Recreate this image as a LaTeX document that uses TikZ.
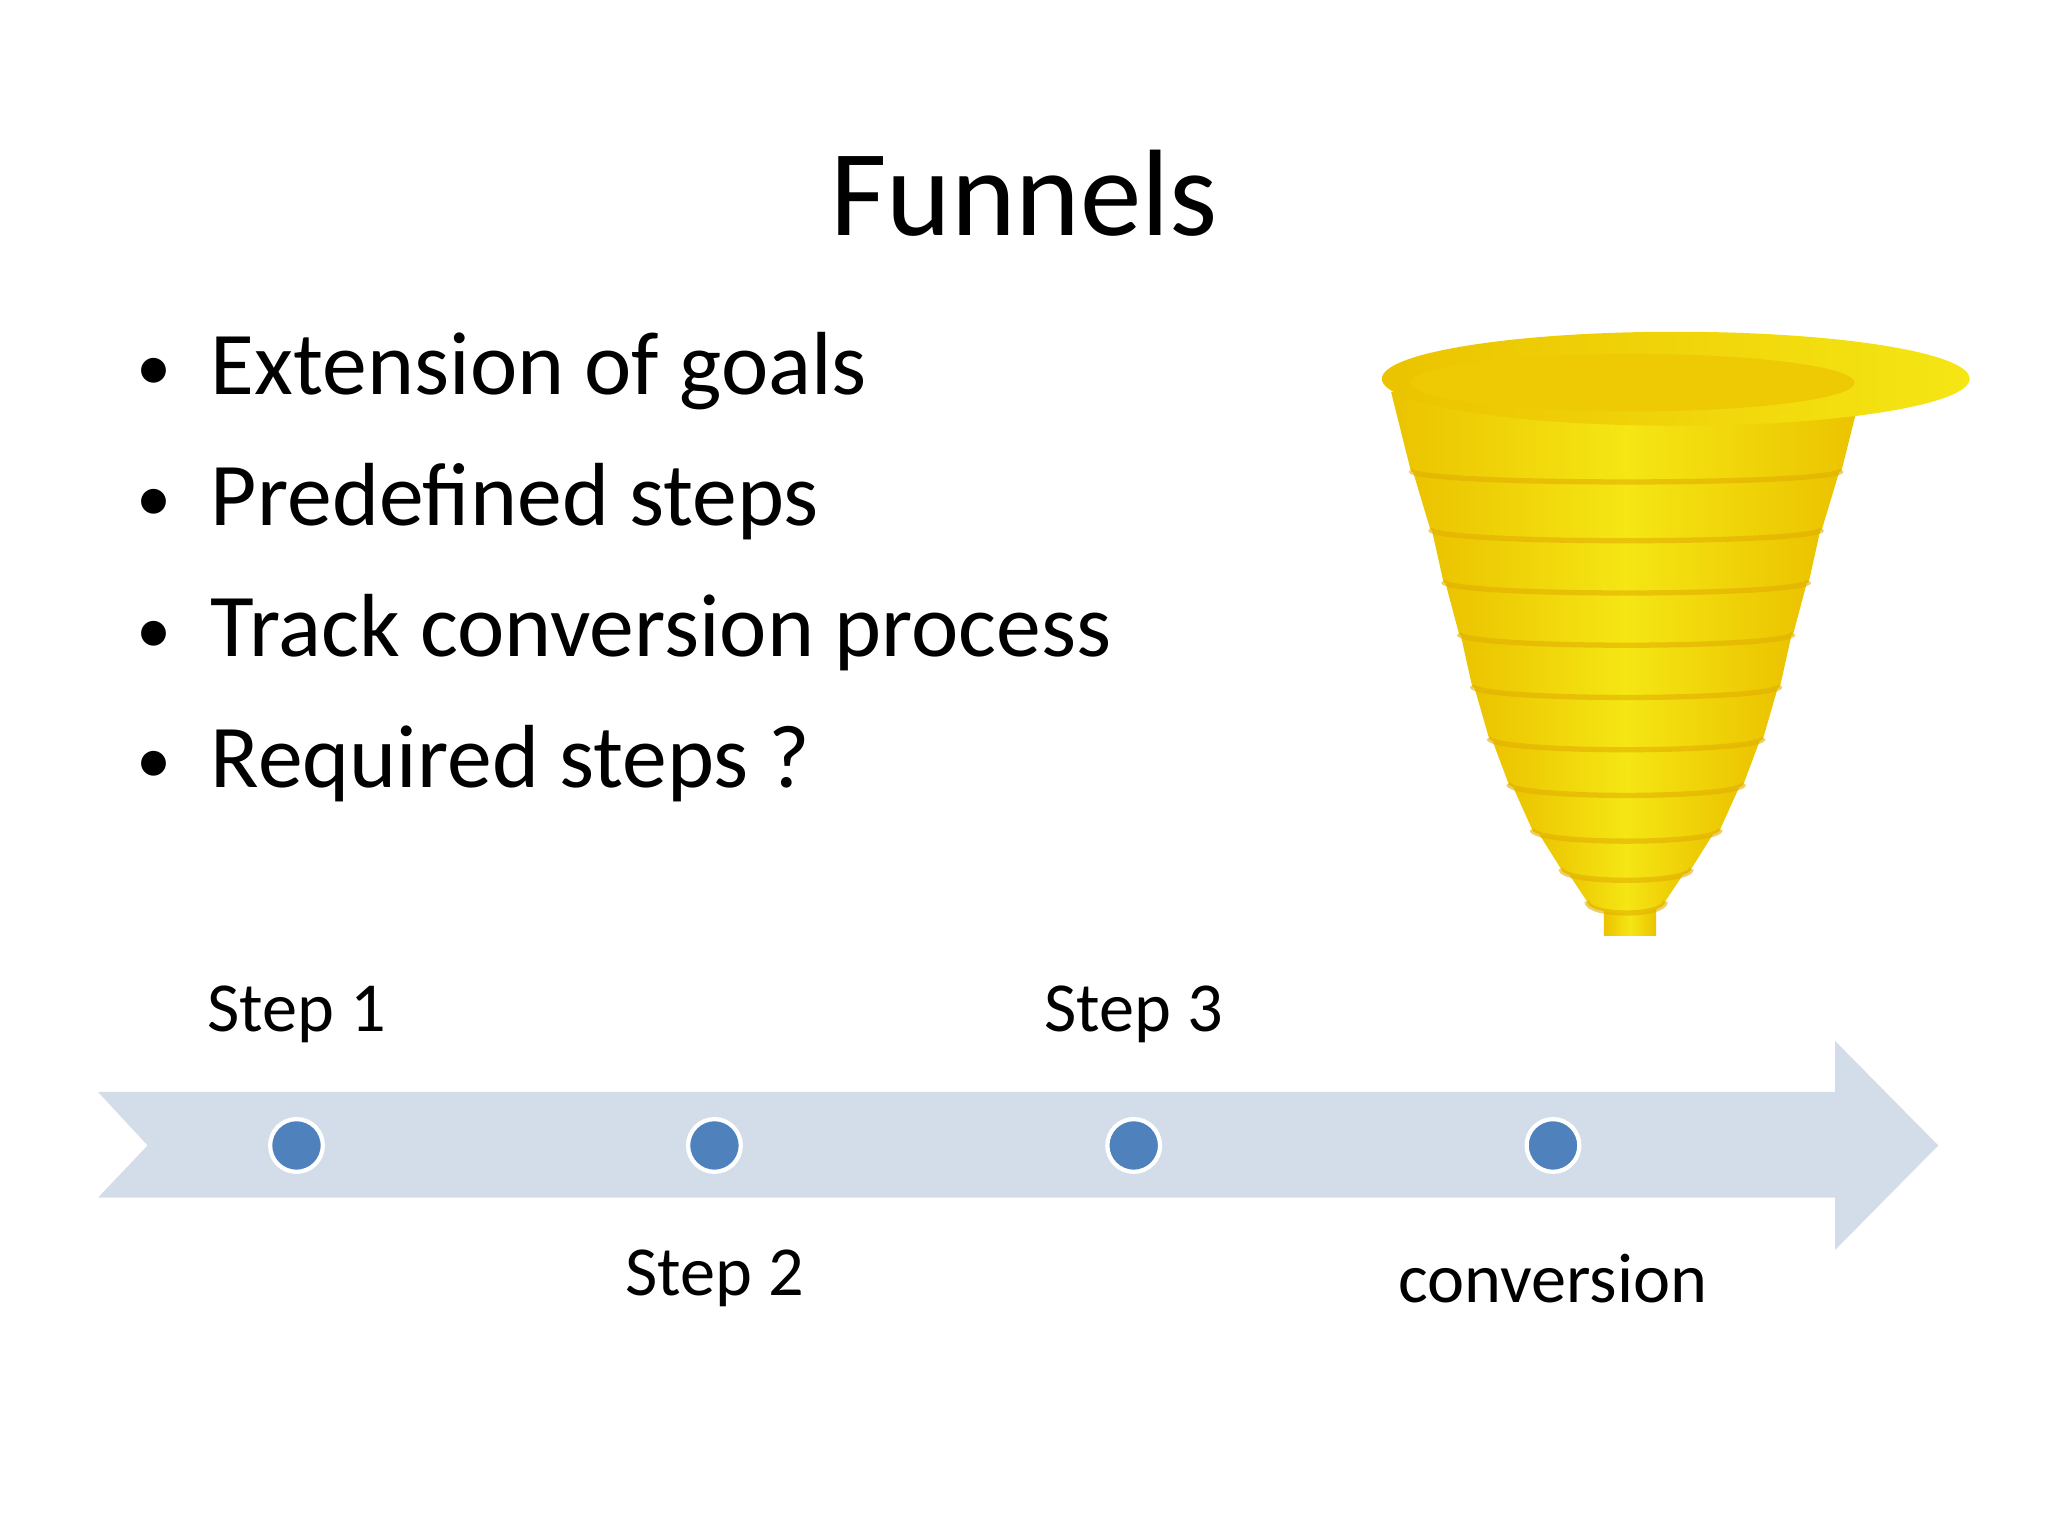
\documentclass[tikz,border=0pt]{standalone}
\usepackage{fontspec}
\setmainfont{Carlito}
\definecolor{arr}{RGB}{211,221,234}
\definecolor{dot}{RGB}{79,129,189}
\definecolor{yl}{RGB}{245,230,20}
\definecolor{yd}{RGB}{235,195,0}
\definecolor{rib}{RGB}{225,175,0}
\tikzset{lbl/.style={font=\fontsize{20}{24}\selectfont},
 bul/.style={font=\fontsize{25.5}{30}\selectfont,anchor=base west},
 dotn/.style={circle,fill=dot,draw=white,line width=1.2pt,minimum size=15pt,inner sep=0pt}}
\begin{document}
\begin{tikzpicture}[x=0.013061cm,y=-0.013061cm]
\useasboundingbox (0,0) rectangle (1568,1176);
\node[font=\fontsize{35}{42}\selectfont] (title) at (784,148) {Funnels};
\foreach \t/\y [count=\i] in {Extension of goals/302,Predefined steps/402,Track conversion process/503,Required steps ?/603}{
  \node[bul] (b\i) at (152,\y) {\t};
  \node[bul,font=\fontsize{20}{24}\selectfont] (d\i) at (95,\y-3) {•};
}
% funnel (bottom tiers first)
\shade[left color=yd,right color=yd,middle color=yl] (1228,688) rectangle (1268,716);
\foreach \yt/\hw/\yb/\hb in {660/50/690/30, 630/72/665/50, 595/90/635/72, 560/105/600/90, 520/118/565/105, 480/128/525/118, 440/140/485/128, 400/150/445/140, 355/165/405/150, 300/180/360/165}{
  \shade[left color=yd,right color=yd,middle color=yl]
   (1245-\hw,\yt) -- (1245-\hb,\yb) .. controls (1245-\hb,\yb+12) and (1245+\hb,\yb+12) .. (1245+\hb,\yb) -- (1245+\hw,\yt) -- cycle;
  \draw[rib,line width=1.5pt,opacity=0.6] (1245-\hb,\yb) .. controls (1245-\hb,\yb+12) and (1245+\hb,\yb+12) .. (1245+\hb,\yb);
}
\shade[left color=yd,right color=yl] (1283,290) ellipse[x radius=225,y radius=36];
\fill[yd!80!yl] (1250,293) ellipse[x radius=170,y radius=22];
% arrow
\fill[arr] (75,836) -- (1405,836) -- (1405,797) -- (1484,877) -- (1405,957) -- (1405,917) -- (75,917) -- (113,877) -- cycle;
\foreach \x/\n in {227/1,547/2,868/3,1189/4}{\node[dotn] (p\n) at (\x,877) {};}
\node[lbl] (s1) at (227,777) {Step 1};
\node[lbl] (s3) at (868,777) {Step 3};
\node[lbl] (s2) at (547,979) {Step 2};
\node[lbl] (s4) at (1189,979) {conversion};
\end{tikzpicture}
\end{document}
